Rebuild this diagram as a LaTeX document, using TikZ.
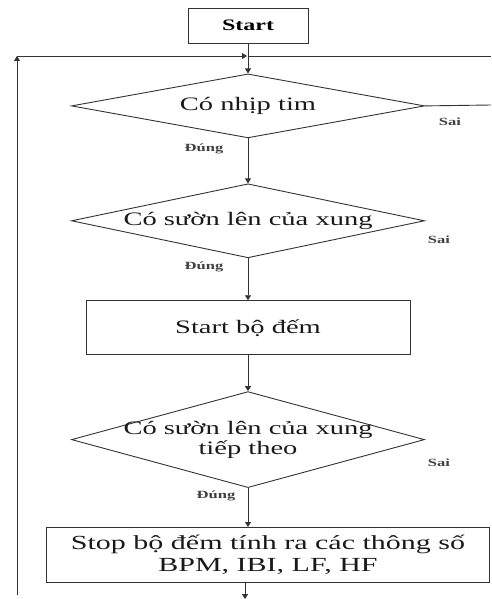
\documentclass[tikz,border=0pt]{standalone}
\usepackage{fontspec}
\setmainfont{Liberation Serif}[FakeStretch=1.5]
\usepackage{tikz}
\usetikzlibrary{positioning,shapes.geometric,arrows.meta}

\begin{document}
\begin{tikzpicture}[
    x=1pt, y=-1pt,
    >={Triangle[length=5pt,width=6pt]},
    line width=0.9pt,
    link/.style={draw=black!80},
    block/.style={rectangle, draw=black!80, inner sep=0pt},
    decision/.style={diamond, draw=black!80, inner sep=0pt, minimum width=353pt},
    dtext/.style={font=\fontsize{19}{20}\selectfont, text=black!90, align=center, inner sep=0pt},
    lbl/.style={font=\bfseries\fontsize{11}{11}\selectfont, text=black!75, inner sep=0pt}
  ]
    \useasboundingbox (0,0) rectangle (491,599);

    \node (start) [block, minimum width=120pt, minimum height=35pt, font=\bfseries\fontsize{16}{16}\selectfont] at (248,25.5) {Start};

    \node (d1) [decision, minimum height=64pt, below=30pt of start] {};
    \node (d1-txt) [dtext] at (d1) {Có nhịp tim};

    \node (d2) [decision, minimum height=74pt, below=45pt of d1] {};
    \node (d2-txt) [dtext] at (d2) {Có sườn lên của xung};

    \node (cnt) [block, minimum width=324pt, minimum height=54pt, below=42pt of d2, dtext] {Start bộ đếm};

    \node (d3) [decision, minimum height=96pt, below=36pt of cnt] {};
    \node (d3-txt) [dtext] at (d3) {Có sườn lên của xung\\tiếp theo};

    \node (stop) [block, minimum width=443pt, minimum height=55pt, below=39pt of d3, xshift=20pt,
                  dtext, font=\fontsize{20}{22}\selectfont] {Stop bộ đếm tính ra các thông số\\BPM, IBI, LF, HF};

    % nhan Dung / Sai
    \node (d1-sai) [lbl] at ([shift={(25,16)}]d1.east) {Sai};
    \node (d2-sai) [lbl] at ([shift={(14,19)}]d2.east) {Sai};
    \node (d3-sai) [lbl] at ([shift={(14,23)}]d3.east) {Sai};
    \node (d1-dung) [lbl] at ([shift={(-44,11)}]d1.south) {Đúng};
    \node (d2-dung) [lbl] at ([shift={(-44,9)}]d2.south) {Đúng};
    \node (d3-dung) [lbl] at ([shift={(-32,8)}]d3.south) {Đúng};

    \coordinate (loop-tl) at (17,56);
    \coordinate (loop-bl) at (17,595);
    \coordinate (loop-r) at (491,56);
    \coordinate (sai-r) at (491,105);
    \coordinate (out) at (245,599);

    \draw[link, ->] (start) -- (d1);
    \draw[link, ->] (d1) -- (d2);
    \draw[link, ->] (d2) -- (cnt);
    \draw[link, ->] (cnt) -- (d3);
    \draw[link, ->] (d3.south) -- (d3.south |- stop.north);
    \draw[link, ->] (out |- stop.south) -- (out);

    \draw[link, ->] (loop-bl) -- (loop-tl);
    \draw[link, ->, shorten >=1pt] (loop-tl) -- (loop-tl -| start.south);
    \draw[link] (loop-r) -- (loop-r -| start.south);
    \draw[link] (d1.east) -- (sai-r);
  \end{tikzpicture}
\end{document}
